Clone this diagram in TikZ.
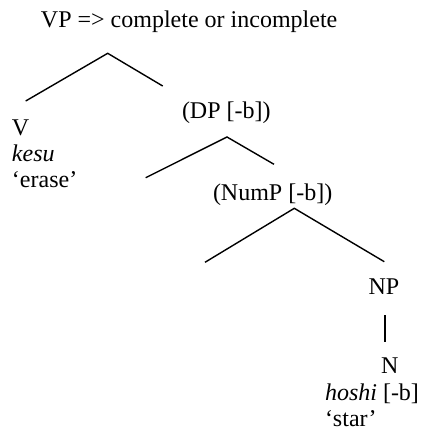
\documentclass[tikz,border=0pt]{standalone}
\usepackage{fontspec}
\setmainfont{Liberation Serif}
\begin{document}
\begin{tikzpicture}[x=1pt,y=-1pt,
  lbl/.style={anchor=base west,inner sep=0pt,outer sep=0pt,font=\fontsize{24}{27}\selectfont},
  branch/.style={line width=1.4pt}]
\useasboundingbox (0,0) rectangle (421,432);
\node[lbl] (title) at (41,27.5) {VP => complete or incomplete};
\node[lbl] (v) at (12,135) {V};
\node[lbl] (kesu) at (12,161) {\itshape kesu};
\node[lbl] (erase) at (12,187.5) {‘erase’};
\node[lbl] (dp) at (182,118.3) {(DP [-b])};
\node[lbl] (nump) at (213,200) {(NumP [-b])};
\node[lbl] (np) at (368.5,294) {NP};
\node[lbl] (n) at (381,373.3) {N};
\node[lbl] (hoshi) at (325,400.7) {\itshape hoshi\/\upshape{} [-b]};
\node[lbl] (star) at (325,426) {‘star’};
% tree 1
\coordinate (a1) at (107.7,53.3);
\coordinate (l1) at (25.7,101);
\coordinate (r1) at (162.7,86);
\draw[branch] (l1) -- (a1) -- (r1);
% tree 2
\coordinate (a2) at (227,137);
\coordinate (l2) at (145.7,177.7);
\coordinate (r2) at (274,164.3);
\draw[branch] (l2) -- (a2) -- (r2);
% tree 3
\coordinate (a3) at (294.3,208.3);
\coordinate (l3) at (205,262.3);
\coordinate (r3) at (384.3,261.7);
\draw[branch] (l3) -- (a3) -- (r3);
% NP - N
\coordinate (t4) at (385,315);
\coordinate (b4) at (385,341.7);
\draw[branch] (t4) -- (b4);
\end{tikzpicture}
\end{document}
